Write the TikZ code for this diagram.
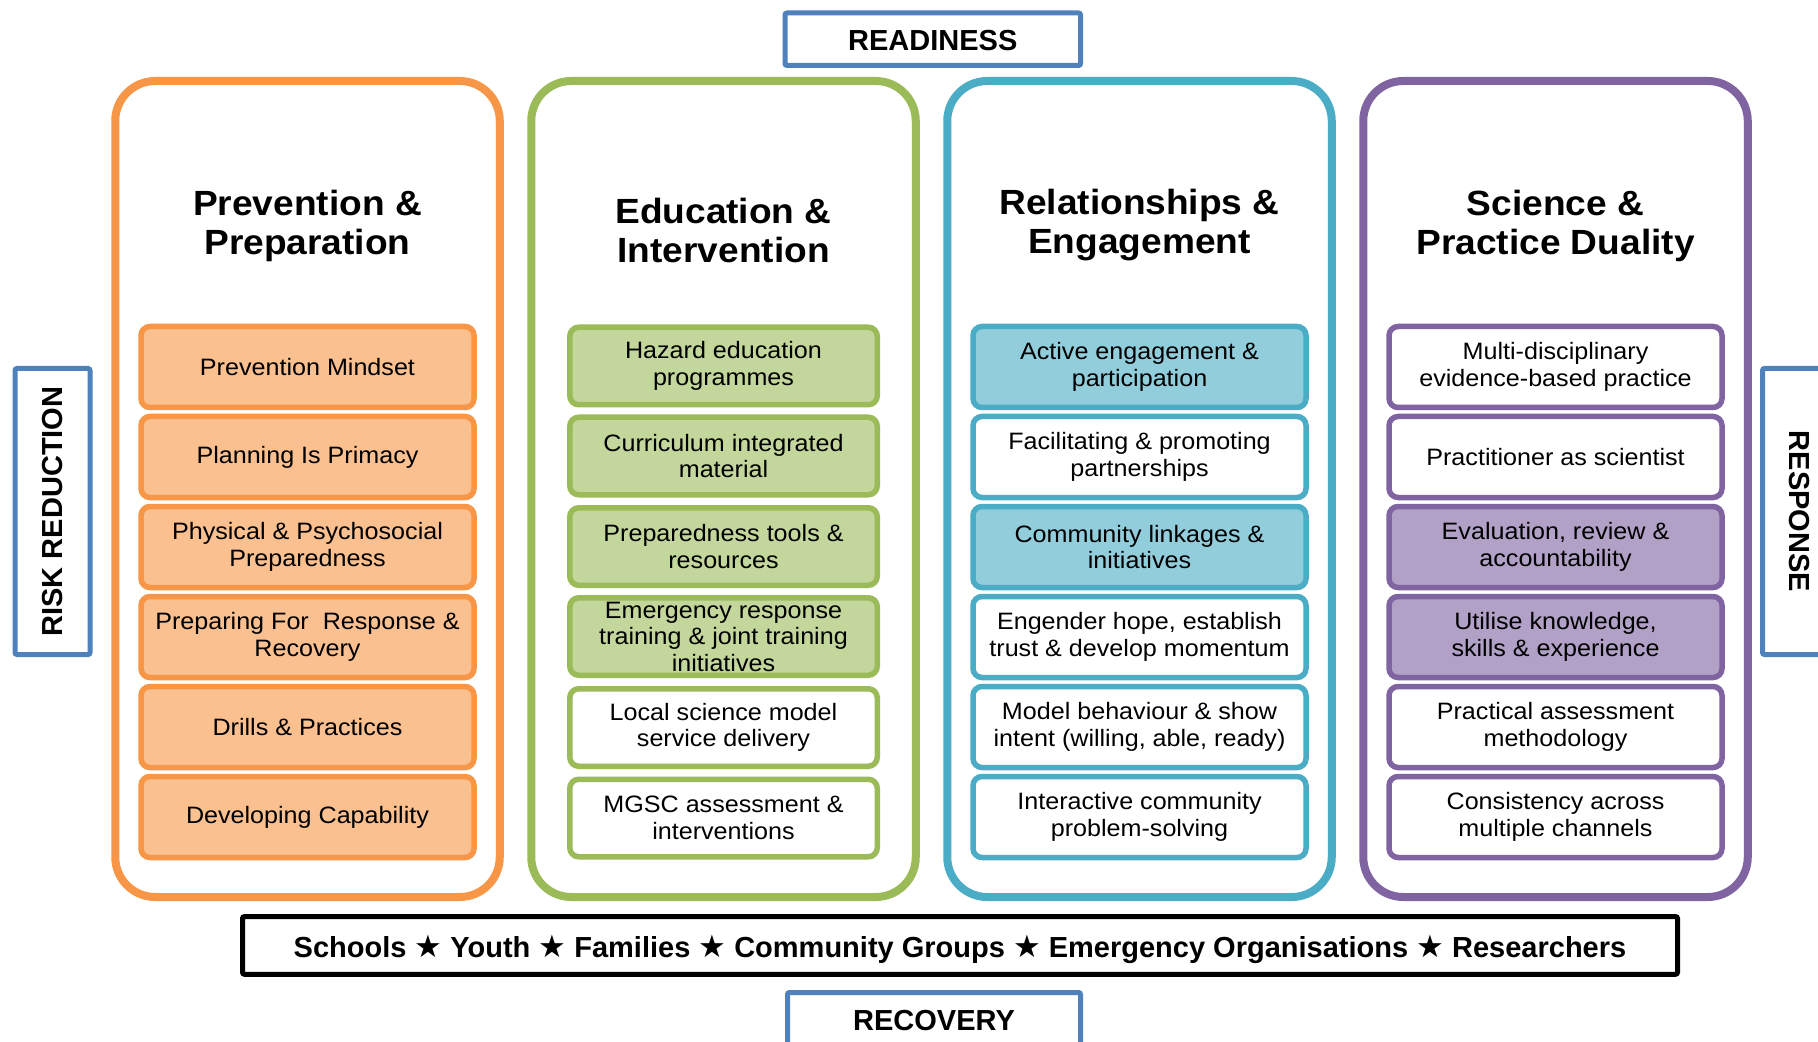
\documentclass[tikz,border=0pt]{standalone}
\usepackage{fontspec}
\setmainfont{Liberation Sans}
\newfontfamily\widefont{Liberation Sans}[FakeStretch=1.06]
\newfontfamily\starfont{DejaVu Sans}
\newcommand\mystar{{\starfont\fontsize{15.5}{15.5}\selectfont ★}}
\definecolor{corange}{HTML}{F79646}
\definecolor{forange}{HTML}{FAC090}
\definecolor{cgreen}{HTML}{9BBB59}
\definecolor{fgreen}{HTML}{C3D69B}
\definecolor{cteal}{HTML}{4BACC6}
\definecolor{fteal}{HTML}{92CDDC}
\definecolor{cpurple}{HTML}{8064A2}
\definecolor{fpurple}{HTML}{B2A1C7}
\definecolor{cblue}{HTML}{4F81BD}
\tikzset{
  colbox/.style={draw, line width=4pt, rounded corners=20pt, minimum width=192.25pt, minimum height=408pt, inner sep=0pt},
  ibox/.style={draw, line width=2.75pt, rounded corners=4.5pt, minimum width=166.5pt, minimum height=40.5pt, inner sep=0pt, align=center, font=\widefont\fontsize{11.85}{13.25}\selectfont},
  gbox/.style={ibox, minimum width=153.75pt, minimum height=38.75pt},
  ttl/.style={align=center, inner sep=0pt, anchor=north, font=\widefont\bfseries\fontsize{17.5}{19.2}\selectfont},
  bluebox/.style={draw=cblue, line width=2.5pt, rounded corners=1pt, inner sep=0pt, text depth=0pt, font=\bfseries\fontsize{14.5}{17}\selectfont},
}
\begin{document}
\begin{tikzpicture}[x=0.5pt, y=-0.5pt]
\useasboundingbox (0,0) rectangle (1818,1042);
\fill[white] (0,0) rectangle (1818,1042);
\clip (0,0) rectangle (1818,1042);

% side / top / bottom labels
\node[bluebox, minimum width=147.75pt, minimum height=26.25pt] (ready) at (932.75,39.25) {\raisebox{-1.2pt}{READINESS}};
\node[bluebox, minimum width=146.5pt, minimum height=26.25pt] (recov) at (934,1018.75) {\raisebox{-1.6pt}{RECOVERY}};
\node[bluebox, rotate=90, minimum width=143pt, minimum height=37.5pt] (risk) at (52.5,511.5) {RISK REDUCTION};
\node[bluebox, rotate=-90, minimum width=143pt, minimum height=37.5pt] (resp) at (1800,511.5) {RESPONSE};

% columns
\node[colbox, draw=corange] (c1) at (307.5,489) {};
\node[colbox, draw=cgreen] (c2) at (723.5,489) {};
\node[colbox, draw=cteal] (c3) at (1139.5,489) {};
\node[colbox, draw=cpurple] (c4) at (1555.5,489) {};

% titles
\node[ttl] (t1) at (307.5,190) {Prevention \&\\Preparation};
\node[ttl] (t2) at (723.5,198) {Education \&\\Intervention};
\node[ttl] (t3) at (1139.5,189) {Relationships \&\\Engagement};
\node[ttl] (t4) at (1555.5,190) {Science \&\\Practice Duality};

% orange column
\node[ibox, draw=corange, fill=forange] (o1) at (307.5,367) {Prevention Mindset};
\node[ibox, draw=corange, fill=forange] (o2) at (307.5,457) {Planning Is Primacy};
\node[ibox, draw=corange, fill=forange] (o3) at (307.5,547) {Physical \& Psychosocial\\Preparedness};
\node[ibox, draw=corange, fill=forange] (o4) at (307.5,637) {Preparing For~ Response \&\\Recovery};
\node[ibox, draw=corange, fill=forange] (o5) at (307.5,727) {Drills \& Practices};
\node[ibox, draw=corange, fill=forange] (o6) at (307.5,817) {Developing Capability};

% green column
\node[gbox, draw=cgreen, fill=fgreen] (g1) at (723.5,366) {Hazard education\\programmes};
\node[gbox, draw=cgreen, fill=fgreen] (g2) at (723.5,456) {Curriculum integrated\\material};
\node[gbox, draw=cgreen, fill=fgreen] (g3) at (723.5,546.5) {Preparedness tools \&\\resources};
\node[gbox, draw=cgreen, fill=fgreen] (g4) at (723.5,636.5) {Emergency response\\training \& joint training\\initiatives};
\node[gbox, draw=cgreen, fill=white] (g5) at (723.5,727.5) {Local science model\\service delivery};
\node[gbox, draw=cgreen, fill=white] (g6) at (723.5,818) {MGSC assessment \&\\interventions};

% teal column
\node[ibox, draw=cteal, fill=fteal] (b1) at (1139.5,367) {Active engagement \&\\participation};
\node[ibox, draw=cteal, fill=white] (b2) at (1139.5,457) {Facilitating \& promoting\\partnerships};
\node[ibox, draw=cteal, fill=fteal] (b3) at (1139.5,547) {Community linkages \&\\initiatives};
\node[ibox, draw=cteal, fill=white] (b4) at (1139.5,637) {Engender hope, establish\\trust \& develop momentum};
\node[ibox, draw=cteal, fill=white] (b5) at (1139.5,727) {Model behaviour \& show\\intent (willing, able, ready)};
\node[ibox, draw=cteal, fill=white] (b6) at (1139.5,817) {Interactive community\\problem-solving};

% purple column
\node[ibox, draw=cpurple, fill=white] (p1) at (1555.5,367) {Multi-disciplinary\\evidence-based practice};
\node[ibox, draw=cpurple, fill=white] (p2) at (1555.5,457) {Practitioner as scientist};
\node[ibox, draw=cpurple, fill=fpurple] (p3) at (1555.5,547) {Evaluation, review \&\\accountability};
\node[ibox, draw=cpurple, fill=fpurple] (p4) at (1555.5,637) {Utilise knowledge,\\skills \& experience};
\node[ibox, draw=cpurple, fill=white] (p5) at (1555.5,727) {Practical assessment\\methodology};
\node[ibox, draw=cpurple, fill=white] (p6) at (1555.5,817) {Consistency across\\multiple channels};

% bottom bar
\node[draw=black, line width=2.5pt, rounded corners=1pt, minimum width=717.5pt, minimum height=28.85pt, inner sep=0pt, text depth=0pt, font=\bfseries\fontsize{14.5}{17}\selectfont] (bar) at (960,945.4)
  {\raisebox{-0.4pt}{Schools \mystar\ Youth \mystar\ Families \mystar\ Community Groups \mystar\ Emergency Organisations \mystar\ Researchers}};
\end{tikzpicture}
\end{document}
